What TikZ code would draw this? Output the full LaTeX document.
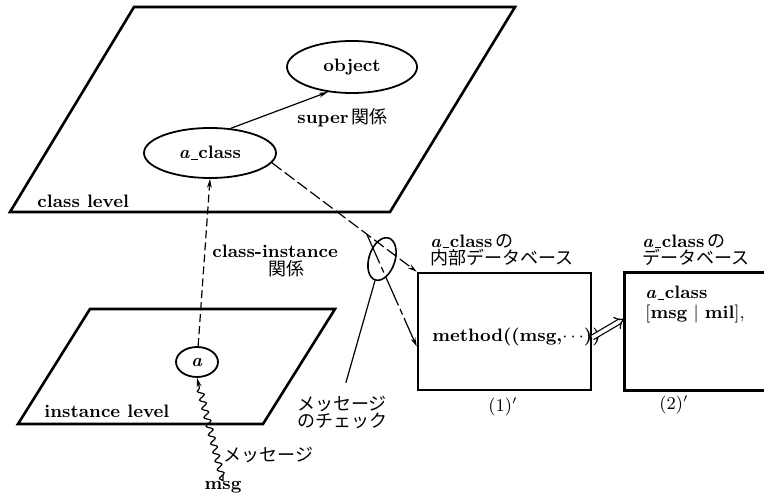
\documentclass[tikz,border=0pt]{standalone}
\usepackage{fontspec}
\newfontfamily\jpfont{Noto Sans CJK JP}
\usetikzlibrary{arrows.meta,shapes.geometric,decorations.pathmorphing,calc}
\newcommand{\aclassname}{\textit{a}\kern0.6pt\rule[-0.5pt]{3.2pt}{0.6pt}\kern0.4pt class}
\tikzset{
  lvl/.style={line width=1.3pt, line join=miter},
  oval/.style={draw, ellipse, line width=0.9pt, inner sep=0pt,
              font=\fontsize{9}{10}\selectfont\bfseries},
  dbox/.style={rectangle, minimum width=86.5pt, minimum height=58.5pt},
  edge/.style={line width=1.3pt, line join=miter},
  lbl/.style={inner sep=0pt, align=left, font=\fontsize{9}{8.5}\selectfont},
  tip/.style={-{Stealth[length=4.5pt,width=2.4pt]}, line width=0.6pt},
  cidash/.style={dash pattern=on 4pt off 2pt},
  msgdash/.style={dash pattern=on 6pt off 2pt},
  brdash/.style={dash pattern=on 16pt off 2pt on 3pt off 2pt},
  wave/.style={decorate, decoration={snake, amplitude=1.5pt,
              segment length=4.5pt, post length=4pt}},
}
\begin{document}
\begin{tikzpicture}[x=0.5pt,y=-0.5pt]
    \useasboundingbox (0,0) rectangle (764,497);
    \clip (0,0) rectangle (764,497);
    \draw[lvl] (134,7) -- (515,7) -- (390,212) -- (10,212) -- cycle;
    \draw[lvl] (90,309) -- (335,309) -- (263,424) -- (18,424) -- cycle;
    \node[lbl, anchor=west, font=\fontsize{9}{10}\selectfont\bfseries] (cl) at (37,201) {class level};
    \node[lbl, anchor=west, font=\fontsize{9}{10}\selectfont\bfseries] (il) at (44,411) {instance level};

    \node[oval, minimum width=65pt, minimum height=26pt] (obj) at (352,67) {object};
    \node[oval, minimum width=66pt, minimum height=25pt] (acl) at (210,153) {\aclassname};
    \node[oval, minimum width=21pt, minimum height=15pt] (a) at (197,362) {\textit{a}};
    \node[lbl, anchor=west] (sup) at (297,118) {\textbf{super}\,{\jpfont 関係}};
    \node[lbl, anchor=west, font=\fontsize{9}{9}\selectfont] (ci) at (212,261)
        {\textbf{class-instance}\\\hspace*{28pt}{\jpfont 関係}};

    \node[dbox, draw, line width=1.3pt] (db1) at (504.5,331.5) {};
    \node[dbox] (db2) at (711.5,331.5) {};
    \draw[edge] (db2.north east) -- (db2.north west) -- (db2.south west) -- (db2.south east);
    \node[lbl, anchor=west] (t1) at (430,250) {\textbf{\aclassname}\,{\jpfont の}\\{\jpfont 内部データベース}};
    \node[lbl, anchor=west] (t2) at (642,250) {\textbf{\aclassname}\,{\jpfont の}\\{\jpfont データベース}};
    \node[lbl, anchor=west] (m1) at (432,337) {\textbf{method((msg,}$\cdots$\textbf{))}};
    \node[lbl, anchor=west, font=\fontsize{9}{10}\selectfont] (m2) at (645,305)
        {\textbf{\aclassname}\\{}[\textbf{msg} $|$ \textbf{mil}],};
    \node[lbl] (n1) at (503,407) {(1)$'$};
    \node[lbl] (n2) at (674,405) {(2)$'$};

    \node[draw, ellipse, line width=0.8pt, minimum width=13pt, minimum height=22pt,
          rotate=-18, inner sep=0pt] (chk) at (382,259) {};
    \node[lbl, align=center] (chkl) at (342,413) {{\jpfont メッセージ}\\{\jpfont のチェック}};
    \node[lbl, anchor=west] (wl) at (223,455) {{\jpfont メッセージ}};
    \node[lbl] (msg) at (223,487) {\textbf{msg}};

    \draw[tip] (acl.50) -- (obj.226);
    \draw[tip, cidash] (a) -- (acl.south);
    \draw[tip, msgdash] (acl.-9) -- coordinate[pos=0.655] (br) (db1.north west);
    \draw[tip, brdash] (br) -- ($(db1.west)+(0,15)$);
    \draw[line width=0.6pt, shorten >=7pt] (chk.south) -- (chkl.north);
    \draw[tip, wave, shorten <=3pt] (msg.north) -- (a.south);
    \draw[double, line width=0.6pt, double distance=1.8pt, -{Implies}]
        ($(db1.east)+(0,6)$) -- ($(db2.west)+(0,-13)$);
\end{tikzpicture}
\end{document}
